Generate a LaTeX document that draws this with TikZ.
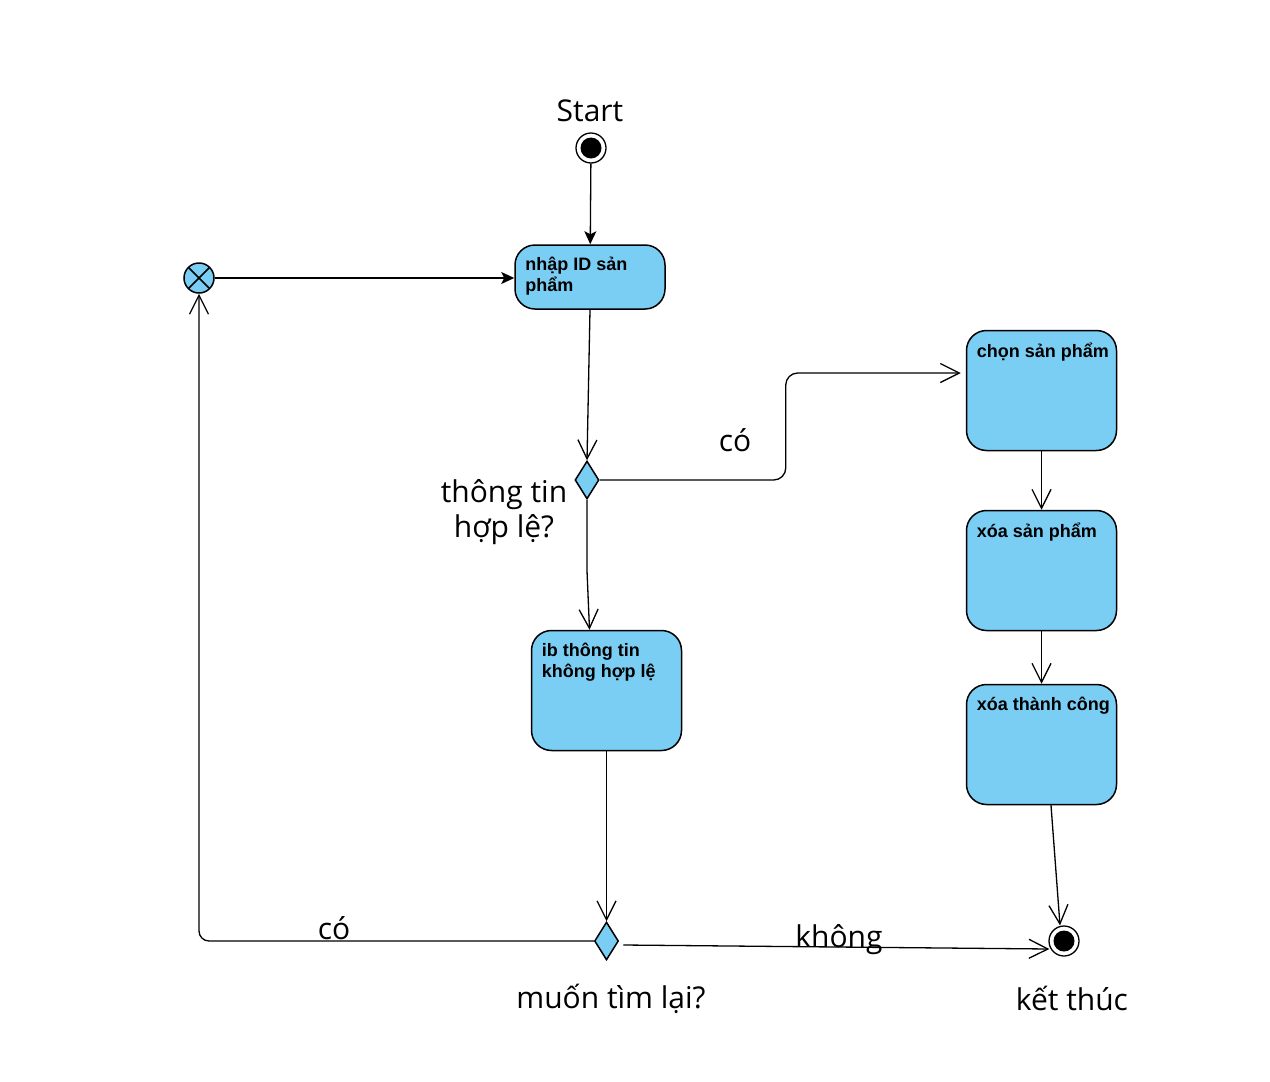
\documentclass[tikz,border=0pt]{standalone}
\usepackage{fontspec}
\setmainfont{Open Sans}
\newfontfamily\boxfont{Liberation Sans}
\usetikzlibrary{arrows.meta,shapes.geometric,positioning}
\definecolor{actblue}{RGB}{122,206,244}
\tikzstyle{act}=[draw, line width=1.5pt, fill=actblue, rounded corners=20pt, minimum width=150pt, minimum height=120pt]
\tikzstyle{acttext}=[anchor=north west, inner sep=0pt, align=left, xshift=11pt, yshift=-13pt, font=\boxfont\bfseries\fontsize{18}{21}\selectfont]
\tikzstyle{dec}=[diamond, draw, line width=1.5pt, fill=actblue, minimum width=24pt, minimum height=38pt, inner sep=0pt]
\tikzstyle{initial}=[circle, draw, line width=1.3pt, fill=white, minimum size=30pt, inner sep=0pt, path picture={\fill[black] (path picture bounding box.center) circle (10.5pt);}]
\tikzstyle{merge}=[circle, draw, line width=1.5pt, fill=actblue, minimum size=30pt, inner sep=0pt, path picture={\draw[line width=1.5pt] (path picture bounding box.center) +(-11pt,-11pt) -- +(11pt,11pt) +(-11pt,11pt) -- +(11pt,-11pt);}]
\tikzstyle{lbl}=[inner sep=0pt, align=center]
\tikzstyle{flow}=[->, line width=1.3pt]
\tikzstyle{solid}=[-{Stealth[length=13pt,width=12pt,inset=3pt]}, line width=1.3pt]

\begin{document}
\begin{tikzpicture}[x=1pt,y=-1pt,>={Straight Barb[length=19pt,width=19pt]},font=\fontsize{30}{35}\selectfont]
\useasboundingbox (0,0) rectangle (1270,1082);
    \node [initial] (start) at (591,148) {};
    \node [act, minimum height=64pt, label={[acttext]north west:nhập ID sản\\phẩm}] (nhap) at (590,277) {};
    \node [merge] (loop) at (199,278) {};
    \node [dec] (valid) at (587,480) {};
    \node [act, label={[acttext]north west:ib thông tin\\không hợp lệ}] (invalid) at (606.5,690.5) {};
    \node [act, label={[acttext]north west:chọn sản phẩm}] (pick) at (1041.5,390.5) {};
    \node [act, label={[acttext]north west:xóa sản phẩm}] (del) at (1041.5,570.5) {};
    \node [act, label={[acttext]north west:xóa thành công}] (done) at (1041.5,744.5) {};
    \node [dec] (again) at (606.5,941) {};
    \node [initial] (stop) at (1064,941) {};
    % labels
    \node [lbl] (startlbl) at (590,111) {Start};
    \node [lbl] (validlbl) at (504,512) {thông tin\\hợp lệ?};
    \node [lbl] (yes1) at (735,440) {có};
    \node [lbl] (yes2) at (334,928) {có};
    \node [lbl] (no) at (839,940) {không};
    \node [lbl] (againlbl) at (611,999) {muốn tìm lại?};
    \node [lbl] (stoplbl) at (1072,998) {kết thúc};
    % connectors
    \draw [solid] (start) -- (nhap);
    \draw [solid] (loop) -- (loop -| nhap.west);
    \draw [flow] (nhap.south) -- (valid.north);
    \draw [flow, rounded corners=12pt] (valid.east) -- ++(186,0) |- ([xshift=-5pt,yshift=17.5pt]pick.west);
    \draw [flow] (valid.south) -- ++(0,71) -- ([xshift=-17pt]invalid.north);
    \draw [flow] (pick) -- (del);
    \draw [flow] (del) -- (done);
    \draw [flow] ([xshift=9.5pt]done.south) -- ([xshift=-4pt]stop.north);
    \draw [flow] (invalid) -- (again);
    \draw [flow, rounded corners=10pt] (again.west) -| (loop.south);
    \draw [flow] ([xshift=4pt,yshift=-4pt]again.east) -- ([xshift=1pt,yshift=-8pt]stop.west);
\end{tikzpicture}
\end{document}
